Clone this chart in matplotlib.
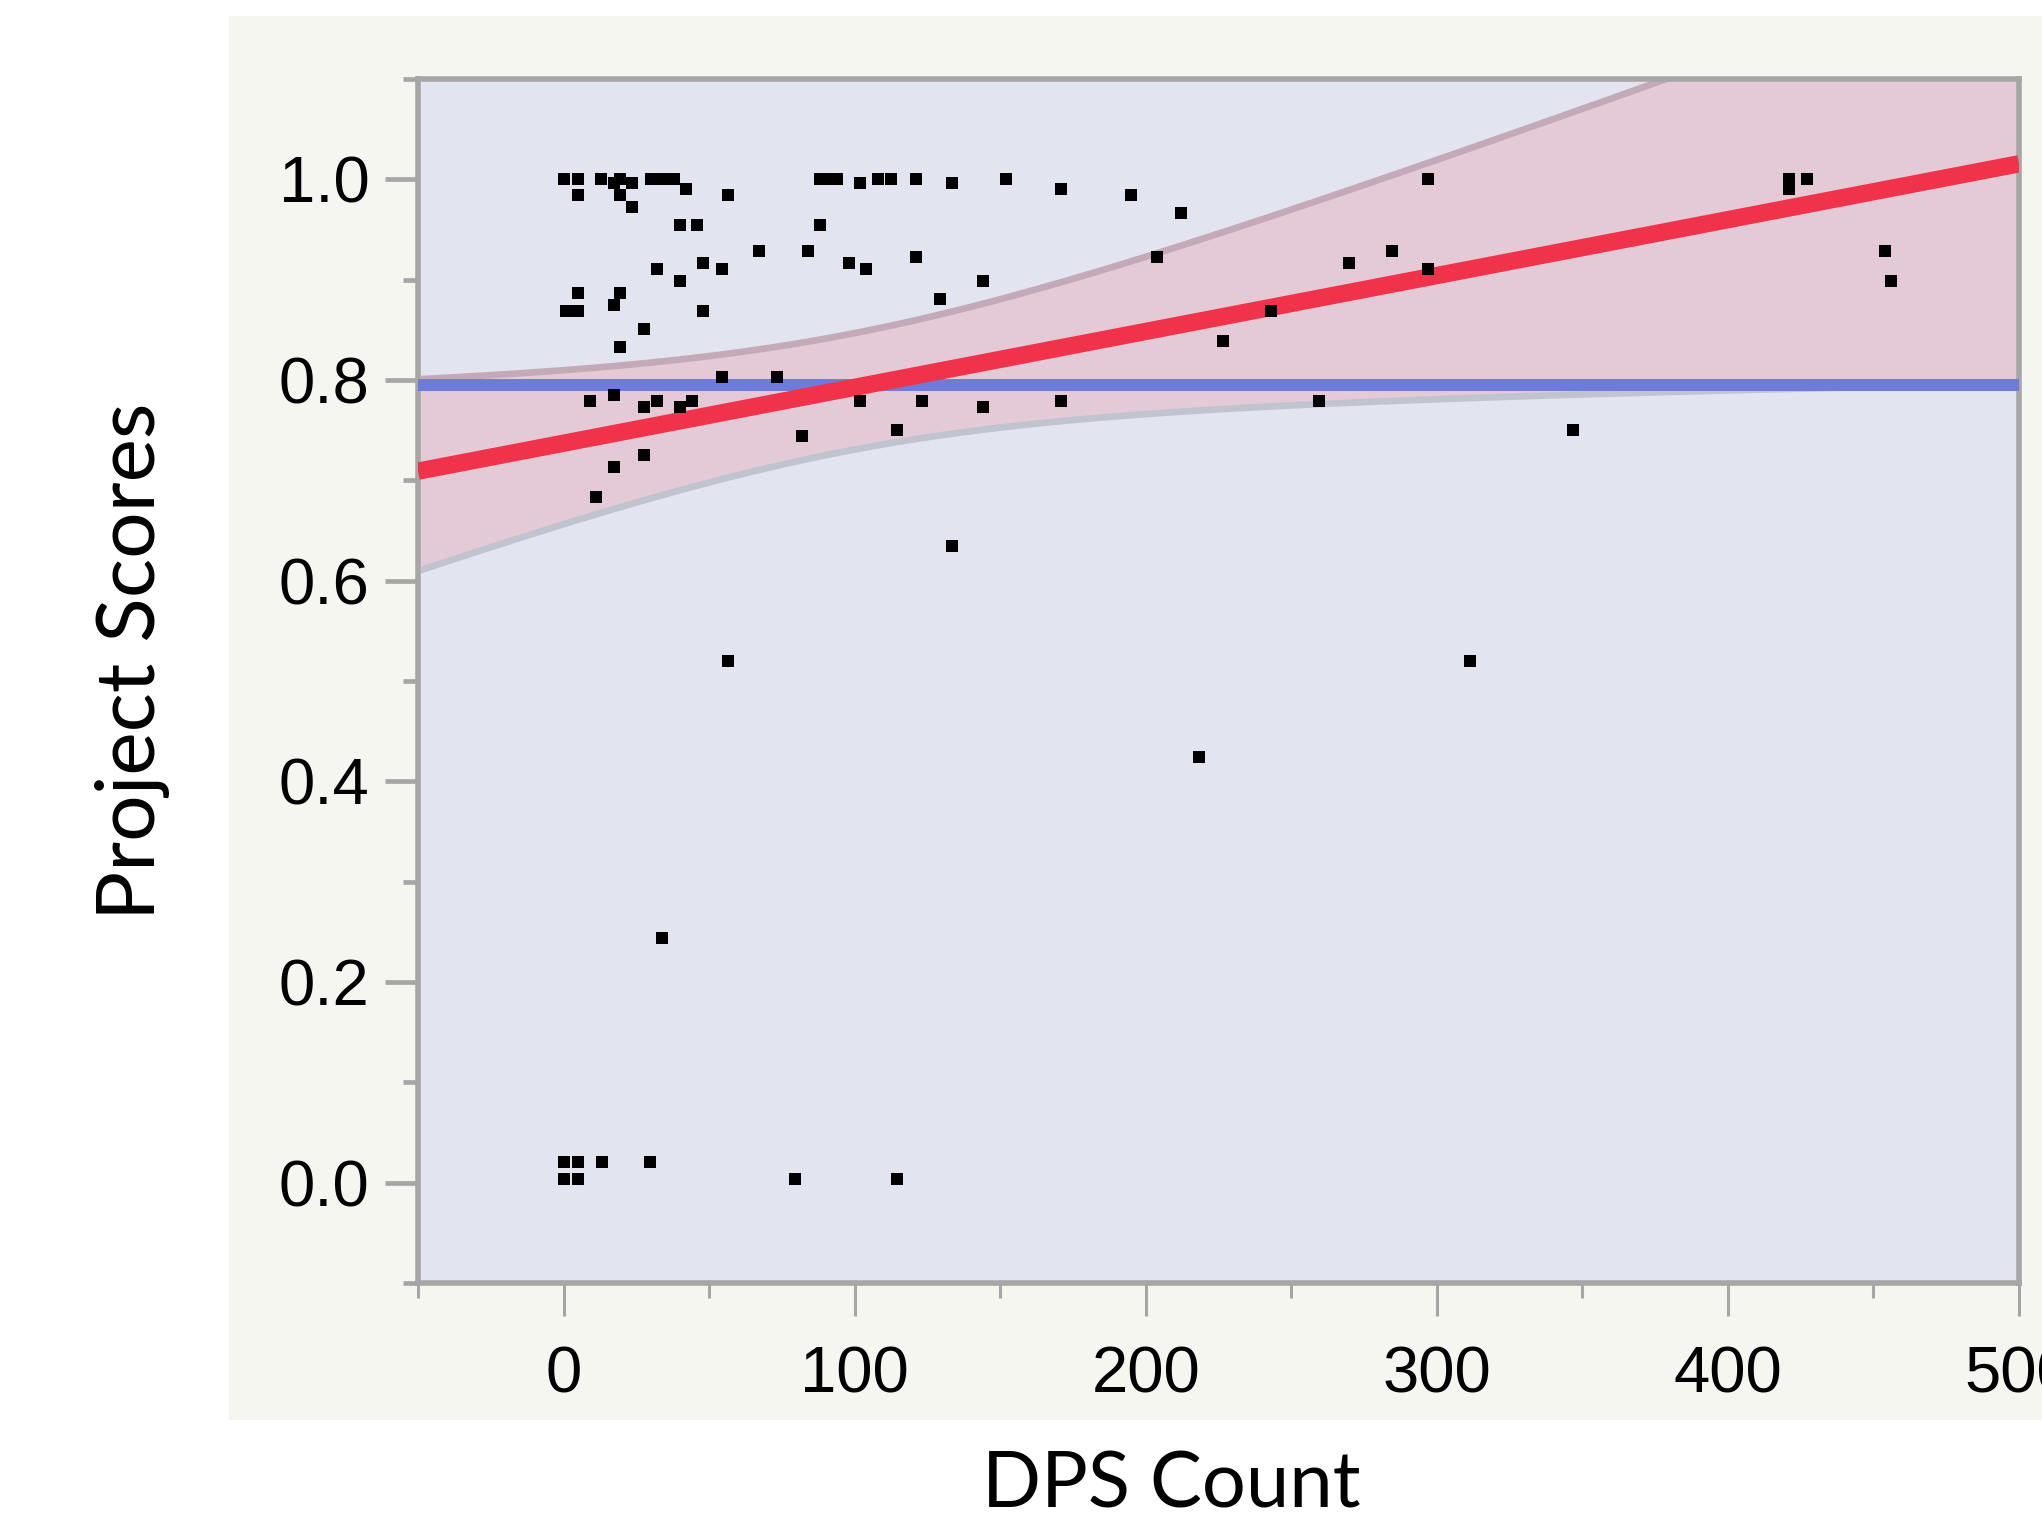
import numpy as np
import matplotlib
matplotlib.use("Agg")
import matplotlib.pyplot as plt

# ---- data ----
dps_count = [0, 5, 13, 19.5, 30, 34, 38, 88, 91, 94, 108, 112.5, 121, 152, 297, 421, 427,
             17.4, 23.6, 102, 133.5,
             42, 171, 421,
             5, 19.5, 56.6, 195,
             23.6, 212,
             40, 46, 88,
             67, 84, 284.5, 454,
             121, 204,
             48, 98, 270,
             32, 54.5, 104, 297,
             40, 144, 456,
             5, 19.5, 129.4, 17.4,
             1, 5, 48, 243,
             27.7, 226.5, 19.5,
             54.5, 73.4, 17.4,
             9.2, 32, 44, 102, 123, 171, 259.5,
             27.7, 40, 144,
             114.6, 346.7, 81.8, 27.7, 17.4, 11.3, 133.5,
             56.6, 311.4, 218.3, 33.9,
             0, 5, 13.3, 29.8,
             0, 5, 79.6, 114.6]
project_scores = [1.0, 1.0, 1.0, 1.0, 1.0, 1.0, 1.0, 1.0, 1.0, 1.0, 1.0, 1.0, 1.0, 1.0, 1.0, 1.0, 1.0,
                  0.996, 0.996, 0.996, 0.996,
                  0.99, 0.99, 0.99,
                  0.984, 0.984, 0.984, 0.984,
                  0.972, 0.966,
                  0.954, 0.954, 0.954,
                  0.929, 0.929, 0.929, 0.929,
                  0.923, 0.923,
                  0.917, 0.917, 0.917,
                  0.911, 0.911, 0.911, 0.911,
                  0.899, 0.899, 0.899,
                  0.887, 0.887, 0.881, 0.875,
                  0.869, 0.869, 0.869, 0.869,
                  0.851, 0.839, 0.833,
                  0.803, 0.803, 0.785,
                  0.779, 0.779, 0.779, 0.779, 0.779, 0.779, 0.779,
                  0.773, 0.773, 0.773,
                  0.75, 0.75, 0.744, 0.725, 0.713, 0.683, 0.635,
                  0.52, 0.52, 0.424, 0.244,
                  0.021, 0.021, 0.021, 0.021,
                  0.004, 0.004, 0.004, 0.004]

x_ticks = [0, 100, 200, 300, 400, 500]
y_ticks = [0.0, 0.2, 0.4, 0.6, 0.8, 1.0]
x_limits = (-50, 500)
y_limits = (-0.1, 1.1)

# fitted lines
mean_score = 0.795          # horizontal "fit mean" line
fit_intercept = 0.737       # linear fit: score = intercept + slope * count
fit_slope = 0.000557
band_offset = -0.004        # centre of the confidence band relative to the fit line
band_center_x = 97.6        # count where the confidence band is narrowest
band_min_half = 0.058       # half-width of the band at its narrowest
band_spread = 0.000515      # growth of the half-width away from the centre

# ---- curves ----
xs = np.linspace(x_limits[0], x_limits[1], 500)
fit = fit_intercept + fit_slope * xs
centre = fit + band_offset
half = np.sqrt(band_min_half ** 2 + (band_spread * (xs - band_center_x)) ** 2)
upper, lower = centre + half, centre - half

x = np.array(dps_count, dtype=float)
y = np.array(project_scores, dtype=float)

# ---- figure ----
W, H = 2042, 1517
fig = plt.figure(figsize=(W / 100, H / 100), dpi=100, facecolor="white")
bg = fig.add_axes([229 / W, 1 - 1420 / H, 1 - 229 / W, (1420 - 16) / H], zorder=-5)
bg.set_facecolor("#f5f6f0")
bg.set_xticks([])
bg.set_yticks([])
for sp in bg.spines.values():
    sp.set_visible(False)

L, R, T, B = 418, 2019, 79, 1283
ax = fig.add_axes([L / W, 1 - B / H, (R - L) / W, (B - T) / H], zorder=1)
ax.set_facecolor("#e2e4f0")

ax.fill_between(xs, lower, upper, color="#e4cad6", lw=0, zorder=1)
ax.plot(xs, upper, color="#c4aab9", lw=4.8, zorder=2, solid_capstyle="butt")
ax.plot(xs, lower, color="#c0c4cf", lw=4.8, zorder=2, solid_capstyle="butt")
ax.axhline(mean_score, color="#6e7bdc", lw=8.6, zorder=3)
ax.plot(xs, fit, color="#f0334a", lw=12.5, zorder=4, solid_capstyle="butt")
ax.plot(x, y, linestyle="none", marker="s", markersize=9.1, markeredgewidth=0,
        color="black", zorder=5)

ax.set_xlim(*x_limits)
ax.set_ylim(*y_limits)
ax.set_xticks(x_ticks)
ax.set_xticks(np.arange(-50, 501, 50), minor=True)
ax.set_yticks(y_ticks)
ax.set_yticks(np.arange(-0.1, 1.101, 0.1), minor=True)
ax.set_xticklabels([str(v) for v in x_ticks])
ax.set_yticklabels([f"{v:.1f}" for v in y_ticks])

for sp in ax.spines.values():
    sp.set_color("#a6a6a6")
    sp.set_linewidth(4)

ax.tick_params(axis="both", which="both", direction="out", color="#a6a6a6")
ax.tick_params(axis="y", which="major", length=24, width=3.4, pad=11,
               labelsize=47, labelcolor="black")
ax.tick_params(axis="y", which="minor", length=11, width=3.4)
ax.tick_params(axis="x", which="major", length=24, width=2.2, pad=21,
               labelsize=47, labelcolor="black")
ax.tick_params(axis="x", which="minor", length=11, width=2.2)
for lab in ax.get_xticklabels() + ax.get_yticklabels():
    lab.set_fontfamily(["Liberation Sans", "DejaVu Sans"])

fig.text(1171 / W, 10 / H, "DPS Count", ha="center", va="baseline",
         fontsize=56, family=["Lato", "DejaVu Sans"], color="black")
fig.text(133 / W, 1 - 661 / H, "Project Scores", ha="center", va="center",
         rotation=90, fontsize=59, family=["Lato", "DejaVu Sans"], color="black")

fig.savefig("out.png", dpi=100, facecolor="white")
